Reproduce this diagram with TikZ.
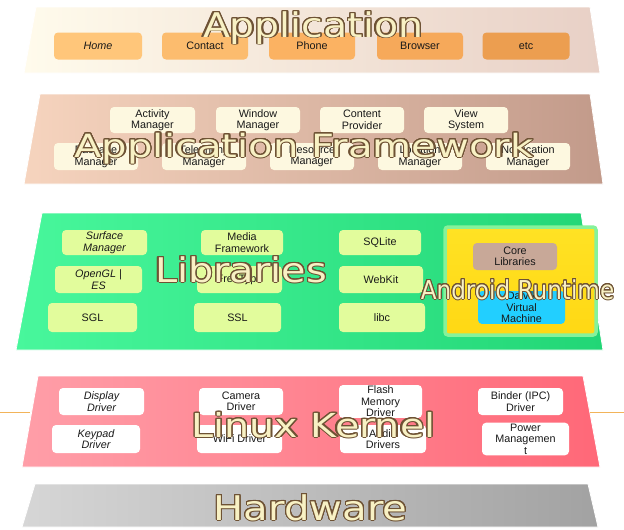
\documentclass[tikz,border=0pt]{standalone}
\usepackage{fontspec}
\setmainfont{Liberation Sans}
\newfontfamily\labelfont{DejaVu Sans}
\usepackage[copies]{contour}
\contourlength{1pt}
\contournumber{24}
\definecolor{lblfill}{HTML}{F8F1C4}
\definecolor{lbledge}{HTML}{6E5234}
\definecolor{appL}{HTML}{FFFBEC}
\definecolor{appR}{HTML}{E8D0C6}
\definecolor{fwL}{HTML}{F6D4BE}
\definecolor{fwR}{HTML}{C29A8A}
\definecolor{libL}{HTML}{48F79C}
\definecolor{libR}{HTML}{22D676}
\definecolor{krL}{HTML}{FF9EA8}
\definecolor{krR}{HTML}{FF6878}
\definecolor{hwL}{HTML}{D6D6D6}
\definecolor{hwR}{HTML}{A2A2A2}
\definecolor{app1}{HTML}{FFC67A}
\definecolor{app2}{HTML}{FCBC6E}
\definecolor{app3}{HTML}{FBB262}
\definecolor{app4}{HTML}{F6A95A}
\definecolor{app5}{HTML}{EC9E50}
\definecolor{fwfill}{HTML}{FDF8E0}
\definecolor{libfill}{HTML}{E2FC9C}
\definecolor{rtedge}{HTML}{86F29A}
\definecolor{rtyel}{HTML}{FFE224}
\definecolor{rtyel2}{HTML}{FFD814}
\definecolor{corefill}{HTML}{C8A898}
\definecolor{dalvfill}{HTML}{22CFFF}
\definecolor{orangeline}{HTML}{F2B45A}
\newcommand{\layerlabel}[2]{\scalebox{#1}[1]{\contour{lbledge}{\textcolor{lblfill}{#2}}}}
\begin{document}
\begin{tikzpicture}[x=1pt,y=-1pt,
  cbox/.style={rounded corners=4pt, minimum height=26pt, inner sep=1pt, align=center,
    font=\fontsize{10.8}{11.5}\selectfont, text=black!90},
  appbox/.style={cbox, fill=#1, minimum width=86pt, minimum height=27pt},
  fwbox/.style={cbox, fill=fwfill, minimum width=85pt},
  libbox/.style={cbox, fill=libfill, minimum width=85pt},
  krbox/.style={cbox, fill=white, minimum width=85pt},
  layeredge/.style={draw=white, line width=0.8pt},
  lbl/.style={anchor=base, inner sep=0pt, font=\labelfont\fontsize{#1}{#1}\selectfont},
]
\useasboundingbox (0,0) rectangle (624,530);
\fill[white] (0,0) rectangle (624,530);

% ---------- layers ----------
\shadedraw[layeredge, left color=appL, right color=appR] (36,7) -- (590,7) -- (600,73) -- (24,73) -- cycle;
\shadedraw[layeredge, left color=fwL, right color=fwR] (40,94) -- (590,94) -- (603,184) -- (24,184) -- cycle;
\shadedraw[layeredge, left color=libL, right color=libR] (42,213) -- (581,213) -- (603,350) -- (16,350) -- cycle;
\shadedraw[layeredge, left color=krL, right color=krR] (38,376) -- (583,376) -- (600,467) -- (22,467) -- cycle;
\shadedraw[layeredge, left color=hwL, right color=hwR] (35,484) -- (588,484) -- (598,527) -- (22,527) -- cycle;

% orange side lines of the kernel layer
\coordinate (kl0) at (0,412);
\coordinate (kl1) at (30,412);
\coordinate (kr0) at (590,412);
\coordinate (kr1) at (624,412);
\draw[orangeline, line width=0.8pt] (kl0) -- (kl1);
\draw[orangeline, line width=0.8pt] (kr0) -- (kr1);

% ---------- Application ----------
\node[appbox=app1, minimum width=88pt] (home) at (98,46) {\itshape Home};
\node[appbox=app2] (contact) at (205,46) {Contact};
\node[appbox=app3] (phone) at (312,46) {Phone};
\node[appbox=app4] (browser) at (420,46) {Browser};
\node[appbox=app5, minimum width=87pt] (etc) at (526,46) {etc};

% ---------- Application Framework ----------
\node[fwbox] (activity) at (152.5,120) {Activity\\Manager};
\node[fwbox, minimum width=84pt] (window) at (258,120) {Window\\Manager};
\node[fwbox, minimum width=84pt] (content) at (362,120) {Content\\Provider};
\node[fwbox, minimum width=84pt] (view) at (466,120) {View\\System};
\node[fwbox, minimum width=84pt, minimum height=27pt] (package) at (96,156.5) {Package\\Manager};
\node[fwbox, minimum width=84pt, minimum height=27pt] (telephony) at (204,156.5) {Telephony\\Manager};
\node[fwbox, minimum width=84pt, minimum height=27pt] (resource) at (312,156.5) {Resource\\Manager};
\node[fwbox, minimum width=84pt, minimum height=27pt] (location) at (420,156.5) {Location\\Manager};
\node[fwbox, minimum width=84pt, minimum height=27pt] (notification) at (528,156.5) {Notification\\Manager};

% ---------- Libraries ----------
\node[libbox, minimum height=25pt] (surface) at (104.5,242.5) {\itshape Surface\\\itshape Manager};
\node[libbox, minimum width=87pt, minimum height=27pt] (opengl) at (98.5,279.5) {\itshape OpenGL |\\\itshape ES};
\node[libbox, minimum width=89pt, minimum height=29pt] (sgl) at (92.5,317.5) {SGL};
\node[libbox, minimum width=82pt, minimum height=25pt] (media) at (242,242.5) {Media\\Framework};
\node[libbox, minimum height=27pt] (freetype) at (239.5,279.5) {FreeType};
\node[libbox, minimum width=87pt, minimum height=29pt] (ssl) at (237.5,317.5) {SSL};
\node[libbox, minimum width=82pt, minimum height=25pt] (sqlite) at (380,242.5) {SQLite};
\node[libbox, minimum width=84pt, minimum height=27pt] (webkit) at (381,279.5) {WebKit};
\node[libbox, minimum width=86pt, minimum height=29pt] (libc) at (382,317.5) {libc};

% Android runtime
\node[rectangle, rounded corners=3pt, draw=rtedge, line width=3.5pt,
      top color=rtyel, bottom color=rtyel2,
      minimum width=151pt, minimum height=108pt] (runtime) at (520.5,281) {};
\node[cbox, fill=corefill, minimum width=84pt, minimum height=27pt] (core) at (515,256.5) {Core\\Libraries};
\node[cbox, fill=dalvfill, minimum width=87pt, minimum height=29pt] (dalvik) at (521.5,307.5) {Dalvik\\Virtual\\Machine};

% ---------- Linux Kernel ----------
\node[krbox, minimum height=27pt] (display) at (101.5,401.5) {\itshape Display\\\itshape Driver};
\node[krbox, minimum width=88pt, minimum height=28pt] (keypad) at (96,439) {\itshape Keypad\\\itshape Driver};
\node[krbox, minimum width=84pt, minimum height=27pt] (camera) at (241,401.5) {Camera\\Driver};
\node[krbox, minimum height=28pt] (wifi) at (239.5,439) {WiFi Driver};
\node[krbox, minimum width=83pt, minimum height=27pt] (flash) at (380.5,401.5) {Flash\\Memory\\Driver};
\node[krbox, minimum width=86pt, minimum height=28pt] (audio) at (383,439) {Audio\\Drivers};
\node[krbox, minimum height=27pt] (binder) at (520.5,401.5) {Binder (IPC)\\Driver};
\node[krbox, minimum width=87pt, minimum height=28pt] (power) at (525.5,439) {Power\\Managemen\\t};

% ---------- layer titles ----------
\node[lbl=34] (tApp) at (313,37) {\layerlabel{1.158}{Application}};
\node[lbl=32] (tFw) at (304,157) {\layerlabel{1.254}{Application Framework}};
\node[lbl=34] (tLib) at (241,282) {\layerlabel{1.17}{Libraries}};
\node[lbl=26] (tRt) at (517.5,299) {\layerlabel{0.89}{Android Runtime}};
\node[lbl=33] (tKr) at (313.5,437) {\layerlabel{1.2}{Linux Kernel}};
\node[lbl=34] (tHw) at (310.5,520) {\layerlabel{1.18}{Hardware}};
\end{tikzpicture}
\end{document}
